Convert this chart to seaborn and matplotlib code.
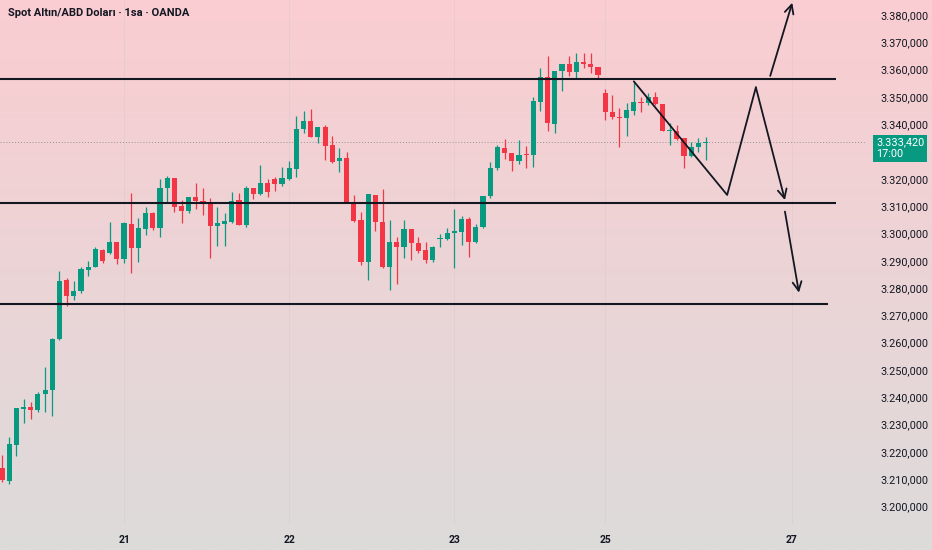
import numpy as np
import matplotlib
matplotlib.use("Agg")
import matplotlib.pyplot as plt
import matplotlib.transforms as mtransforms
import seaborn as sns

# ---------------- data ----------------
title = "Spot Altın/ABD Doları · 1sa · OANDA"

opens = [3214.1, 3209.3, 3222.5, 3235.7, 3236.4, 3235.3, 3241.2, 3242.6, 3261.3, 3282.9,
         3277.1, 3278.9, 3286.6, 3287.7, 3293.9, 3292.8, 3296.9, 3290.6, 3303.4, 3294.7,
         3301.6, 3307.5, 3302.0, 3316.6, 3320.3, 3310.0, 3308.2, 3313.3, 3311.9, 3311.5,
         3302.7, 3303.4, 3304.2, 3312.2, 3303.1, 3316.6, 3314.4, 3318.5, 3319.9, 3318.1,
         3319.9, 3323.6, 3338.2, 3341.2, 3335.3, 3339.0, 3332.4, 3326.5, 3327.6, 3311.1,
         3304.9, 3289.5, 3314.1, 3304.2, 3287.7, 3296.9, 3295.0, 3301.6, 3296.5, 3293.9,
         3290.3, 3298.0, 3298.0, 3300.2, 3300.5, 3305.3, 3296.9, 3302.3, 3313.7, 3324.0,
         3331.3, 3329.5, 3326.5, 3329.1, 3328.7, 3348.1, 3357.3, 3340.1, 3359.5, 3362.1,
         3359.1, 3362.8, 3362.1, 3361.0, 3351.4, 3344.5, 3342.6, 3342.3, 3344.8, 3348.1,
         3347.8, 3350.0, 3347.4, 3337.5, 3337.5, 3335.0, 3328.4, 3331.7, 3333.1]
highs = [3218.8, 3225.4, 3236.0, 3239.3, 3238.2, 3241.9, 3251.1, 3261.7, 3286.2, 3283.7,
         3282.6, 3287.7, 3289.9, 3295.0, 3294.3, 3304.2, 3296.9, 3304.2, 3314.8, 3305.6,
         3309.7, 3307.8, 3319.9, 3321.0, 3320.3, 3312.2, 3313.3, 3318.5, 3316.6, 3313.0,
         3309.7, 3307.5, 3315.2, 3314.8, 3317.4, 3316.6, 3325.1, 3319.9, 3320.7, 3324.3,
         3326.5, 3343.0, 3344.8, 3345.6, 3339.0, 3339.7, 3335.7, 3331.3, 3329.8, 3314.1,
         3307.8, 3314.4, 3314.1, 3316.3, 3304.9, 3298.7, 3304.9, 3301.6, 3298.7, 3296.9,
         3295.4, 3299.8, 3302.0, 3308.9, 3306.4, 3306.0, 3303.4, 3313.7, 3326.2, 3332.4,
         3334.6, 3329.5, 3334.2, 3332.0, 3350.0, 3360.6, 3365.0, 3359.5, 3362.1, 3365.0,
         3366.1, 3366.1, 3366.1, 3361.0, 3352.9, 3350.7, 3345.9, 3347.8, 3355.5, 3350.0,
         3351.4, 3351.8, 3347.4, 3340.4, 3339.7, 3335.0, 3333.5, 3335.0, 3335.3]
lows = [3208.9, 3208.2, 3218.5, 3230.6, 3232.0, 3234.6, 3234.6, 3233.1, 3261.0, 3273.4,
        3275.6, 3278.2, 3284.4, 3287.7, 3289.2, 3292.5, 3288.8, 3289.2, 3285.5, 3289.5,
        3299.4, 3301.3, 3298.7, 3311.1, 3307.8, 3303.8, 3307.5, 3308.9, 3306.7, 3291.0,
        3295.4, 3295.4, 3303.8, 3303.1, 3302.3, 3312.6, 3314.1, 3313.3, 3315.5, 3317.4,
        3319.6, 3320.7, 3336.8, 3335.3, 3333.1, 3326.9, 3325.8, 3322.5, 3311.1, 3304.2,
        3288.4, 3282.9, 3300.9, 3287.3, 3279.3, 3281.5, 3291.0, 3290.3, 3292.8, 3289.2,
        3289.5, 3295.0, 3297.6, 3287.3, 3295.8, 3291.4, 3296.5, 3302.0, 3313.0, 3323.2,
        3327.3, 3322.9, 3325.4, 3324.0, 3324.3, 3344.8, 3337.5, 3336.8, 3352.2, 3357.7,
        3356.9, 3360.6, 3358.8, 3356.9, 3341.5, 3341.9, 3331.7, 3335.7, 3343.4, 3344.5,
        3347.0, 3347.0, 3337.5, 3332.4, 3334.2, 3324.0, 3328.0, 3329.8, 3326.9]
closes = [3209.7, 3222.9, 3236.0, 3236.4, 3235.3, 3241.2, 3242.6, 3261.3, 3282.6, 3277.1,
          3278.9, 3287.0, 3287.7, 3294.3, 3289.9, 3296.9, 3290.6, 3303.8, 3294.7, 3302.0,
          3307.5, 3302.0, 3316.6, 3320.3, 3309.7, 3308.2, 3313.3, 3311.9, 3311.1, 3302.7,
          3303.8, 3304.5, 3311.9, 3303.1, 3316.6, 3314.4, 3318.5, 3315.2, 3318.1, 3320.3,
          3324.0, 3338.2, 3341.2, 3335.3, 3339.0, 3332.0, 3326.2, 3327.6, 3311.1, 3304.5,
          3289.5, 3314.4, 3304.2, 3287.7, 3296.9, 3295.0, 3301.6, 3296.5, 3293.6, 3290.3,
          3295.0, 3298.3, 3300.2, 3300.9, 3305.3, 3296.9, 3302.3, 3313.7, 3324.0, 3331.7,
          3329.5, 3326.5, 3328.7, 3328.7, 3348.5, 3357.3, 3340.4, 3359.5, 3362.1, 3359.1,
          3362.8, 3362.1, 3361.0, 3358.0, 3344.5, 3342.6, 3342.3, 3345.2, 3348.1, 3347.8,
          3350.0, 3347.4, 3337.5, 3337.9, 3334.6, 3328.4, 3331.7, 3333.1, 3333.42]

day_labels = ["21", "22", "23", "25", "27"]
day_index = [17, 40, 63, 84, 110]

price_ticks = [3200, 3210, 3220, 3230, 3240, 3250, 3260, 3270, 3280, 3290,
               3300, 3310, 3320, 3340, 3350, 3360, 3370, 3380]

level_prices = [3356.4, 3311.0, 3274.1]
level_ends = [116.2, 116.2, 115.0]

zigzag_x = [88.0, 101.0, 105.0]
zigzag_y = [3355.7, 3314.1, 3353.5]
arrow_from = [(105.0, 3353.5), (107.0, 3357.7), (109.05, 3308.0)]
arrow_to = [(109.05, 3312.2), (110.07, 3384.5), (111.0, 3278.3)]

last_price = 3333.42
badge_time = "17:00"

# ---------------- style ----------------
sns.set_theme(style="white")
plt.rcParams['font.family'] = ['Roboto', 'DejaVu Sans']

UP = "#089981"
DOWN = "#F23645"
INK = "#131722"

fig = plt.figure(figsize=(9.32, 5.5), dpi=100)

# background gradient (pink top -> grey bottom)
bg = fig.add_axes([0, 0, 1, 1])
top_c = np.array([250, 205, 209]) / 255.0
bot_c = np.array([221, 219, 219]) / 255.0
t = np.linspace(0, 1, 256)[:, None]
grad = (top_c[None, :] * (1 - t) + bot_c[None, :] * t)[:, None, :]
bg.imshow(grad, aspect='auto', extent=[0, 1, 0, 1], origin='upper')
bg.set_axis_off()

ax = fig.add_axes([0, 25 / 550, 865 / 932, 525 / 550])
ax.patch.set_alpha(0)
for s in ax.spines.values():
    s.set_visible(False)

o = np.array(opens)
h = np.array(highs)
l = np.array(lows)
c = np.array(closes)
idx = np.arange(len(o))
cols = [UP if cc >= oo else DOWN for oo, cc in zip(o, c)]

# session separators (very faint)
for d in day_index:
    ax.axvline(d, color="#c9c3c3", lw=0.6, alpha=0.35, zorder=0)

# current price dotted line
ax.axhline(last_price, color="#8c9794", lw=0.7, ls=(0, (1, 2)), zorder=1)

# candles
ax.vlines(idx, l, h, colors=cols, lw=0.9, zorder=2)
body_h = np.maximum(np.abs(c - o), 0.35)
ax.bar(idx, body_h, bottom=np.minimum(o, c), width=0.72, color=cols,
       linewidth=0, zorder=3)

# horizontal levels
for lp, le in zip(level_prices, level_ends):
    ax.plot([-1, le], [lp, lp], color=INK, lw=1.5, zorder=4, solid_capstyle='butt')

# zigzag projection
sns.lineplot(x=zigzag_x, y=zigzag_y, ax=ax, color=INK, lw=1.3, sort=False,
             estimator=None, zorder=5)
for (x0, y0), (x1, y1) in zip(arrow_from, arrow_to):
    ax.annotate("", xy=(x1, y1), xytext=(x0, y0),
                arrowprops=dict(arrowstyle="->", color=INK, lw=1.3,
                                shrinkA=0, shrinkB=0, mutation_scale=16),
                zorder=5)

ax.set_xlim(-0.28, 120.2)
ax.set_ylim(3193.2, 3385.5)

# axes ticks
ax.yaxis.tick_right()
ax.set_yticks(price_ticks)
ax.set_yticklabels([f"{v/1000:.3f}" + ",000" for v in price_ticks])
ax.tick_params(axis='y', length=0, pad=11, labelsize=7.8, labelcolor=INK)
ax.set_xticks(day_index)
ax.set_xticklabels(day_labels, fontweight='bold')
ax.tick_params(axis='x', length=0, pad=7, labelsize=7.5, labelcolor=INK)
ax.set_xlabel("")
ax.set_ylabel("")
ax.grid(False)

# price badge
trans = mtransforms.blended_transform_factory(ax.transAxes, ax.transData)
trans = mtransforms.offset_copy(trans, fig=fig, x=0, y=-6, units='dots')
price_str = f"{last_price:,.3f}".replace(",", "X").replace(".", ",").replace("X", ".")
ax.text(876 / 865, last_price, price_str + "\n" + badge_time, transform=trans,
        ha='left', va='center', color='white', fontsize=7.8, linespacing=1.15,
        bbox=dict(boxstyle='square,pad=0.28', fc=UP, ec='none'), zorder=10,
        clip_on=False)

fig.text(8 / 932, 1 - 13 / 550, title, fontsize=8, fontweight='bold',
         color=INK, va='center', ha='left')

fig.savefig("out.png", dpi=100)
